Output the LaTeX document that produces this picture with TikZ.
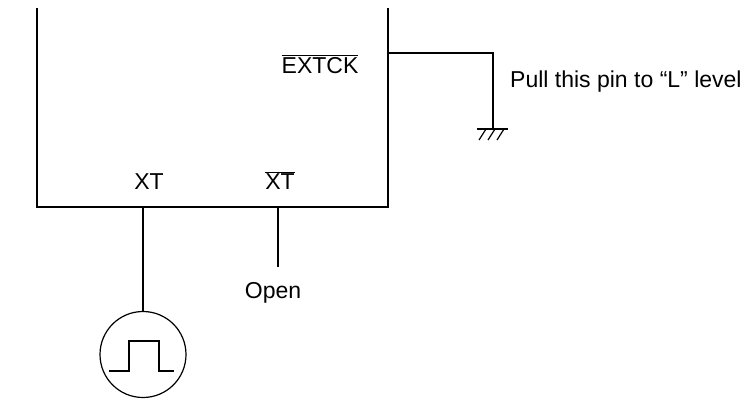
\documentclass[tikz,border=0pt]{standalone}
\usepackage{fontspec}
\setmainfont{Liberation Sans}
\usetikzlibrary{positioning}
\newcommand{\ovl}[1]{$\overline{\hbox{#1}}$}
\tikzset{
  wire/.style={line width=1.2pt},
  pinlabel/.style={font=\fontsize{23}{27}\selectfont, inner sep=0pt, anchor=base},
}
\begin{document}
\begin{tikzpicture}[x=1pt,y=-1pt]
  \useasboundingbox (0,0) rectangle (755,399);
  % chip outline (open at the top)
  \draw[wire] (37,8) -- (37,207) -- (388,207) -- (388,8);
  \coordinate (xtpin) at (143,207);
  \coordinate (xtbpin) at (278,207);
  \coordinate (ckpin) at (388,53);
  \coordinate (ckbend) at (493,53);
  \coordinate (gnd) at (493,129);
  % labels
  \node[pinlabel] (xt) at (149,189) {XT};
  \node[pinlabel] (xtb) at (280,189) {\ovl{XT}};
  \node[pinlabel] (extck) at (320,73) {\ovl{EXTCK}};
  \node[pinlabel, anchor=base west] (pull) at (510,87) {Pull this pin to “L” level};
  \node[pinlabel] (open) at (273,298) {Open};
  % clock source
  \node[wire, draw, circle, minimum size=86pt, inner sep=0pt] (src) at (143,354.5) {};
  \draw[wire, shift={(src.center)}]
    (-34,16.5) -- (-14,16.5) -- (-14,-13.5) -- (16,-13.5) -- (16,16.5) -- (31,16.5);
  % connections
  \draw[wire] (xtpin) -- (src.north);
  \draw[wire] (xtbpin) -- (278,267);
  \draw[wire] (ckpin) -- (ckbend) -- (gnd);
  % ground
  \draw[wire] (477,129) -- (508,129);
  \foreach \gx in {486,495,504}
    \draw[wire] (\gx,129) -- ++(-7,11);
\end{tikzpicture}
\end{document}
